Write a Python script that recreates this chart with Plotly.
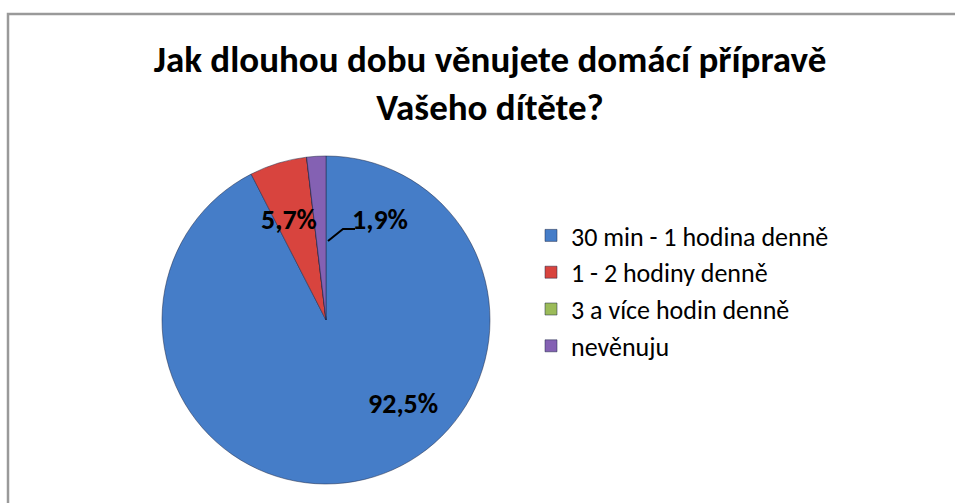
import plotly.graph_objects as go

categories = ["30 min - 1 hodina denně", "1 - 2 hodiny denně", "3 a více hodin denně", "nevěnuju"]
counts = [49, 3, 0, 1]
colors = ["#457DC8", "#D8443E", "#9BBB59", "#8461B3"]

W, H = 955, 503
cx, cy, r = 326, 320, 164  # pie centre / radius in px

FONT = "Carlito, Calibri, Lato, Open Sans, sans-serif"

fig = go.Figure()
fig.add_trace(go.Pie(
    labels=categories,
    values=counts,
    sort=False,
    direction="clockwise",
    rotation=0,
    marker=dict(colors=colors, line=dict(color="rgba(30,40,70,0.5)", width=1)),
    textinfo="none",
    hoverinfo="label+percent",
    showlegend=True,
    domain=dict(x=[(cx - r) / W, (cx + r) / W], y=[(H - cy - r) / H, (H - cy + r) / H]),
))

# data labels (text only; placed beside their slices)
total = sum(counts)
label_pos = {0: (403, 403), 1: (289, 219), 3: (380, 219)}
for i, (px, py) in label_pos.items():
    pct = counts[i] / total * 100
    fig.add_annotation(
        x=px / W, y=1 - py / H, xref="paper", yref="paper",
        text="<b>" + f"{pct:.1f}%".replace(".", ",") + "</b>", showarrow=False,
        font=dict(family=FONT, size=28, color="#000000"),
        xanchor="center", yanchor="middle",
    )

# leader line for the small slice
fig.add_shape(type="path", xref="paper", yref="paper",
              path=f"M {328/W} {1-241/H} L {343/W} {1-229/H} L {355/W} {1-229/H}",
              line=dict(color="#000000", width=2))

# outer frame
fig.add_shape(type="rect", xref="paper", yref="paper",
              x0=8 / W, y0=-0.1, x1=1.1, y1=1 - 14 / H,
              line=dict(color="#9a9a9a", width=2.5), layer="below")

fig.update_layout(
    width=W, height=H,
    margin=dict(l=0, r=0, t=0, b=0),
    paper_bgcolor="white", plot_bgcolor="white",
    separators=", ",
    title=dict(
        text="<b>Jak dlouhou dobu věnujete domácí přípravě<br>Vašeho dítěte?</b>",
        x=490 / W, xanchor="center", y=1 - 72 / H, yanchor="middle",
        font=dict(family=FONT, size=37, color="#000000"),
    ),
    legend=dict(
        x=531 / W, y=1 - 212 / H, xanchor="left", yanchor="top",
        font=dict(family=FONT, size=26, color="#000000"),
        itemwidth=30,
        bgcolor="rgba(0,0,0,0)",
    ),
)

fig.write_html("out.html", config={"displayModeBar": False},
               post_script="document.body.style.margin='0px';")
